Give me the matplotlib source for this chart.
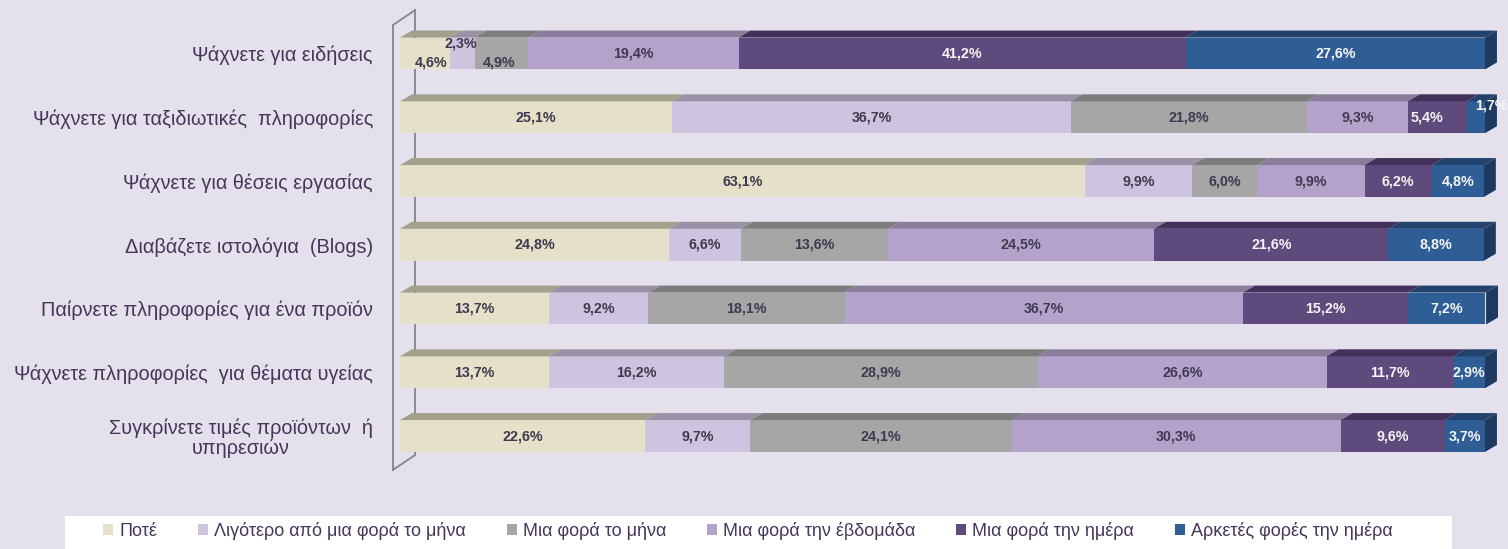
#Συχνότητα χρήσης του διαδικτύου για αναζήτηση πληροφοριών - 3D stacked bars

import numpy as np
import matplotlib
matplotlib.use('Agg')
import matplotlib.pyplot as plt
from matplotlib.patches import Polygon, Rectangle, Patch

#δεδομένα
categories = ['Ψάχνετε για ειδήσεις',
              'Ψάχνετε για ταξιδιωτικές  πληροφορίες',
              'Ψάχνετε για θέσεις εργασίας',
              'Διαβάζετε ιστολόγια  (Blogs)',
              'Παίρνετε πληροφορίες για ένα προϊόν',
              'Ψάχνετε πληροφορίες  για θέματα υγείας',
              'Συγκρίνετε τιμές προϊόντων  ή\nυπηρεσιών']
series = ['Ποτέ', 'Λιγότερο από μια φορά το μήνα', 'Μια φορά το μήνα',
          'Μια φορά την έβδομάδα', 'Μια φορά την ημέρα', 'Αρκετές φορές την ημέρα']
never = [4.6, 25.1, 63.1, 24.8, 13.7, 13.7, 22.6]
less_monthly = [2.3, 36.7, 9.9, 6.6, 9.2, 16.2, 9.7]
monthly = [4.9, 21.8, 6.0, 13.6, 18.1, 28.9, 24.1]
weekly = [19.4, 9.3, 9.9, 24.5, 36.7, 26.6, 30.3]
daily = [41.2, 5.4, 6.2, 21.6, 15.2, 11.7, 9.6]
several_daily = [27.6, 1.7, 4.8, 8.8, 7.2, 2.9, 3.7]

#χρώματα
front = ['#E5E1C8', '#CEC4DF', '#A6A6A6', '#B3A3CA', '#5F4A7D', '#2F5E97']
top = ['#A3A18B', '#9A91A7', '#7D7D7D', '#8A7D9C', '#43315C', '#21426C']
side = '#1E3A60'
txt_col = ['#40394F', '#40394F', '#40394F', '#40394F', '#F4F4F4', '#F4F4F4']
bg = '#E5E1EC'
lab_col = '#45365A'

#μετατοπίσεις ετικετών (pixels)
label_shift = {(0, 0): (6, -9), (0, 1): (-2, 10), (0, 2): (-2, -9),
               (1, 4): (-10, 0), (1, 5): (16, 12)}

vals = np.array([never, less_monthly, monthly, weekly, daily, several_daily]).T
y = np.arange(len(categories))
h = 0.5
dx, dy = 1.1, 0.11

fig = plt.figure(figsize=(15.08, 5.49), dpi=100, facecolor=bg)
ax = fig.add_axes([400/1508, 1-480/549, 1085/1508, 477.5/549])
ax.set_facecolor('none')
ax.set_xlim(0, 100)
ax.set_ylim(6.69, -0.8)
for s in ax.spines.values():
    s.set_visible(False)
ax.set_xticks([])
ax.set_yticks(y)
ax.set_yticklabels(categories, fontsize=14.3, color=lab_col, family=['Liberation Sans', 'DejaVu Sans'],
                   multialignment='center', linespacing=1.05)
ax.tick_params(axis='y', length=0, pad=19.5)

#τοίχος άξονα
wf, wb = -0.645, 1.38
ax.plot([wf, wf], [-0.447, 6.53], color='#8A8A94', lw=1.4, zorder=5, clip_on=False)
ax.plot([wb, wb], [-0.68, 6.30], color='#8A8A94', lw=1.4, zorder=1, clip_on=False)
ax.plot([wf, wb], [-0.447, -0.68], color='#8A8A94', lw=1.4, zorder=1, clip_on=False)
ax.plot([wf, wb], [6.53, 6.30], color='#8A8A94', lw=1.4, zorder=5, clip_on=False)

left = np.zeros(len(categories))
for j in range(len(series)):
    w = vals[:, j]
    ax.barh(y, w, left=left, height=h, color=front[j], zorder=3, linewidth=0)
    for i in range(len(categories)):
        l, r = left[i], left[i] + w[i]
        yt = y[i] - h/2
        ax.add_patch(Polygon([(l, yt), (r, yt), (r + dx, yt - dy), (l + dx, yt - dy)],
                             closed=True, facecolor=top[j], edgecolor='none', zorder=3, clip_on=False))
        sx, sy = label_shift.get((i, j), (0, 0))
        ax.annotate(('%.1f' % w[i]).replace('.', ',') + '%',
                    xy=(l + w[i]/2, y[i]), xytext=(sx, sy), textcoords='offset pixels',
                    ha='center', va='center', fontsize=10.3, fontweight='bold',
                    color=txt_col[j], family='Liberation Sans', zorder=6, annotation_clip=False)
    left = left + w

#πλαϊνή πλευρά
for i in range(len(categories)):
    r = left[i]
    yt, yb = y[i] - h/2, y[i] + h/2
    ax.add_patch(Polygon([(r, yt), (r + dx, yt - dy), (r + dx, yb - dy), (r, yb)],
                         closed=True, facecolor=side, edgecolor='none', zorder=3, clip_on=False))

#υπόμνημα
fig.patches.append(Rectangle((65/1508, 0), (1452-65)/1508, 33/549, transform=fig.transFigure,
                             facecolor='white', edgecolor='none', zorder=0))
handles = [Patch(facecolor=c, edgecolor='none') for c in front]
fig.legend(handles, series, loc='center left', bbox_to_anchor=(87/1508, 1-531/549), ncol=6,
           frameon=False, handlelength=0.55, handleheight=0.55,
           handletextpad=0.35, columnspacing=2.25, labelcolor=lab_col,
           prop={'family': ['Liberation Sans Narrow', 'Liberation Sans'], 'size': 13})

plt.savefig('out.png', dpi=100, facecolor=bg)
